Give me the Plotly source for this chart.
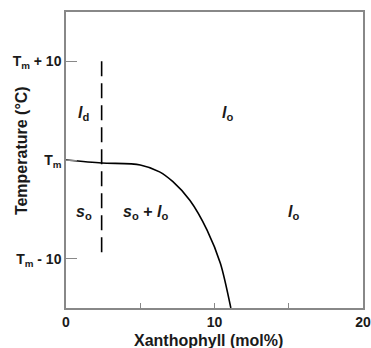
import plotly.graph_objects as go

# Phase boundary curve (Xanthophyll mol%, Temperature relative to Tm)
x_curve = [0, 2.4, 5.0, 6.3, 7.2, 8.35, 9.5, 10.4, 11.1]
t_curve = [0, -0.3, -0.5, -1.2, -2.2, -4.1, -7.1, -10.5, -15]

# Vertical dashed boundary
x_dash = [2.4, 2.4]
t_dash = [10, -10]

y_tickvals = [-10, 0, 10]
y_ticktext = ["T<sub>m</sub> - 10", "T<sub>m</sub>", "T<sub>m</sub> + 10"]
x_tickvals = [0, 5, 10, 15, 20]
x_ticktext = ["0", "", "10", "", "20"]

labels = [
    (1.15, 4.7, "<i>l</i><sub>d</sub>"),
    (10.9, 4.7, "<i>l</i><sub>o</sub>"),
    (1.2, -5.35, "<i>s</i><sub>o</sub>"),
    (5.35, -5.35, "<i>s</i><sub>o</sub> + <i>l</i><sub>o</sub>"),
    (15.3, -5.35, "<i>l</i><sub>o</sub>"),
]

x_title = "Xanthophyll (mol%)"
y_title = "Temperature (°C)"

font_family = "Liberation Sans, Arial, sans-serif"
txt_color = "#1a1a1a"

fig = go.Figure()
fig.add_trace(go.Scatter(x=x_curve, y=t_curve, mode="lines",
                         line=dict(color="black", width=1.6, shape="spline", smoothing=0.8),
                         hoverinfo="skip"))
fig.add_trace(go.Scatter(x=x_dash, y=t_dash, mode="lines",
                         line=dict(color="black", width=1.6, dash="15px,7px"),
                         hoverinfo="skip"))

for xv, yv, txt in labels:
    fig.add_annotation(x=xv, y=yv, text="<b>" + txt + "</b>", showarrow=False,
                       font=dict(size=16, color=txt_color, family=font_family))

# axis titles
fig.add_annotation(xref="paper", yref="paper", x=0.48, y=0, yshift=-32,
                   xanchor="center", yanchor="middle",
                   text="<b>" + x_title + "</b>", showarrow=False,
                   font=dict(size=16, color=txt_color, family=font_family))
fig.add_annotation(xref="paper", yref="paper", x=0, xshift=-45, y=0.53,
                   xanchor="center", yanchor="middle",
                   text="<b>" + y_title + "</b>", showarrow=False, textangle=-90,
                   font=dict(size=16, color=txt_color, family=font_family))

fig.update_layout(
    width=371, height=348,
    margin=dict(l=66, r=8, t=12, b=40),
    plot_bgcolor="white", paper_bgcolor="white",
    showlegend=False,
    font=dict(family=font_family, color=txt_color),
)
fig.update_xaxes(range=[0, 20], tickvals=x_tickvals, ticktext=["<b>" + t + "</b>" for t in x_ticktext],
                 ticks="inside", ticklen=5, tickcolor="#888", tickwidth=1,
                 showline=True, mirror=True, linecolor="#888", linewidth=1.5,
                 showgrid=False, zeroline=False, automargin=False,
                 tickfont=dict(size=14, family=font_family, color=txt_color))
fig.update_yaxes(range=[-15, 15], tickvals=y_tickvals, ticktext=["<b>" + t + "</b>" for t in y_ticktext],
                 ticks="inside", ticklen=11, tickcolor="#888", tickwidth=1,
                 showline=True, mirror=True, linecolor="#888", linewidth=1.5,
                 showgrid=False, zeroline=False, automargin=False,
                 tickfont=dict(size=14, family=font_family, color=txt_color))

fig.write_html("out.html", config={"displayModeBar": False},
               post_script="document.body.style.margin='0';document.body.style.overflow='hidden';")
